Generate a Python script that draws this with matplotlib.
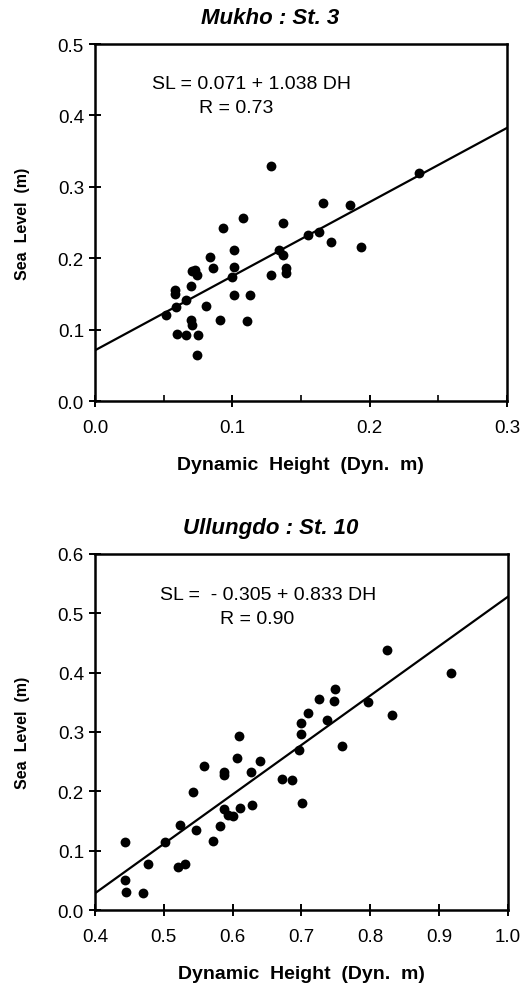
import numpy as np
import matplotlib
matplotlib.use("Agg")
import matplotlib.pyplot as plt
from matplotlib.ticker import MultipleLocator

plt.rcParams['font.family'] = ['Liberation Sans', 'DejaVu Sans']

# Mukho : St. 3
dh_mukho = [0.052, 0.058, 0.058, 0.059, 0.060, 0.066, 0.066, 0.070, 0.070, 0.071,
            0.071, 0.073, 0.074, 0.075, 0.074, 0.081, 0.084, 0.086, 0.091, 0.093,
            0.100, 0.101, 0.101, 0.101, 0.108, 0.111, 0.113, 0.128, 0.128, 0.134,
            0.137, 0.137, 0.139, 0.139, 0.155, 0.163, 0.166, 0.172, 0.186, 0.194,
            0.236]
sl_mukho = [0.121, 0.156, 0.150, 0.132, 0.094, 0.092, 0.141, 0.161, 0.114, 0.107,
            0.182, 0.183, 0.177, 0.092, 0.064, 0.133, 0.202, 0.186, 0.114, 0.242,
            0.174, 0.188, 0.212, 0.148, 0.257, 0.112, 0.148, 0.177, 0.329, 0.212,
            0.250, 0.205, 0.186, 0.179, 0.232, 0.237, 0.278, 0.222, 0.275, 0.215,
            0.320]
coef_mukho = (0.071, 1.038)

# Ullungdo : St. 10
dh_ullung = [0.444, 0.444, 0.445, 0.470, 0.477, 0.501, 0.521, 0.531, 0.524, 0.542,
             0.547, 0.559, 0.571, 0.581, 0.587, 0.587, 0.587, 0.593, 0.600, 0.607,
             0.609, 0.611, 0.627, 0.628, 0.640, 0.672, 0.686, 0.697, 0.699, 0.700,
             0.701, 0.710, 0.726, 0.737, 0.747, 0.749, 0.759, 0.796, 0.825, 0.831,
             0.918]
sl_ullung = [0.115, 0.051, 0.030, 0.028, 0.078, 0.114, 0.072, 0.078, 0.143, 0.199,
             0.134, 0.242, 0.116, 0.141, 0.233, 0.227, 0.170, 0.160, 0.159, 0.256,
             0.294, 0.172, 0.232, 0.177, 0.251, 0.221, 0.219, 0.269, 0.296, 0.315,
             0.180, 0.332, 0.356, 0.321, 0.353, 0.372, 0.277, 0.351, 0.439, 0.328,
             0.399]
coef_ullung = (-0.305, 0.833)

fig = plt.figure(figsize=(5.24, 9.87), dpi=100)
ax1 = fig.add_axes([0.1813, 0.5927, 0.786, 0.3617])
ax2 = fig.add_axes([0.1813, 0.0770, 0.788, 0.3607])


def panel(ax, x, y, coef, xlim, ylim, title, eq, r, eqpos):
    ax.scatter(x, y, s=50, color='black', zorder=3, linewidths=0)
    xs = np.array(xlim)
    ax.plot(xs, coef[0] + coef[1] * xs, color='black', lw=1.6, zorder=2)
    ax.set_xlim(xlim)
    ax.set_ylim(ylim)
    ax.xaxis.set_major_locator(MultipleLocator(0.1))
    ax.yaxis.set_major_locator(MultipleLocator(0.1))
    ax.xaxis.set_major_formatter(plt.FormatStrFormatter('%.1f'))
    ax.yaxis.set_major_formatter(plt.FormatStrFormatter('%.1f'))
    ax.tick_params(which='major', direction='inout', length=8, width=1.4,
                   labelsize=13.5)
    ax.tick_params(axis='x', pad=9)
    ax.tick_params(axis='y', pad=4)
    for s in ax.spines.values():
        s.set_linewidth(1.8)
    ax.set_title(title, fontsize=16, fontweight='bold', style='italic',
                 x=0.425, pad=15)
    ax.set_xlabel('Dynamic  Height  (Dyn.  m)', fontsize=14, fontweight='bold',
                  labelpad=14)
    ax.set_ylabel('Sea  Level  (m)', fontsize=11.5, fontweight='bold', labelpad=20)
    ax.text(eqpos[0], eqpos[1], eq, transform=ax.transAxes, fontsize=14,
            ha='left', va='center')
    ax.text(eqpos[2], eqpos[1] - 0.067, r, transform=ax.transAxes, fontsize=14,
            ha='left', va='center')


panel(ax1, dh_mukho, sl_mukho, coef_mukho, (0.0, 0.3), (0.0, 0.5),
      'Mukho : St. 3', 'SL = 0.071 + 1.038 DH', 'R = 0.73', (0.138, 0.888, 0.252))
ax1.xaxis.set_minor_locator(MultipleLocator(0.05))
ax1.tick_params(axis='x', which='minor', direction='in', length=4, width=1.2)

panel(ax2, dh_ullung, sl_ullung, coef_ullung, (0.4, 1.0), (0.0, 0.6),
      'Ullungdo : St. 10', 'SL =  - 0.305 + 0.833 DH', 'R = 0.90', (0.157, 0.887, 0.303))

fig.savefig('out.png', dpi=100)
